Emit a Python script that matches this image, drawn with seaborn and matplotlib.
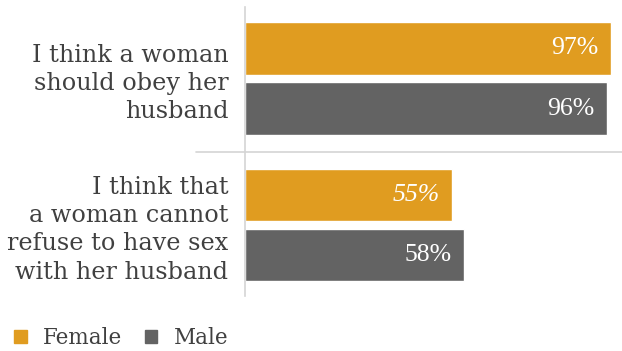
import matplotlib
matplotlib.use("Agg")
import matplotlib.pyplot as plt
import matplotlib.patches as mpatches
import pandas as pd
import seaborn as sns

# values
STATEMENTS = [
    "I think a woman\nshould obey her\nhusband",
    "I think that\na woman cannot\nrefuse to have sex\nwith her husband",
]
FEMALE = [97, 55]
MALE = [96, 58]
GENDERS = ["Female", "Male"]
COLORS = {"Female": "#E09C20", "Male": "#636363"}
ITALIC_LABELS = {("Female", 1)}

TEXT_COLOR = "#404040"
LINE_COLOR = "#d4d4d4"

sns.set_style("white")
plt.rcParams["font.family"] = ["DejaVu Serif"]

df = pd.DataFrame({
    "statement": STATEMENTS * 2,
    "value": FEMALE + MALE,
    "gender": ["Female"] * len(FEMALE) + ["Male"] * len(MALE),
})

fig = plt.figure(figsize=(6.22, 3.51), dpi=100)
W, H = 622, 351
ax = fig.add_axes([245 / W, 1 - 296 / H, 377 / W, 289 / H])

sns.barplot(
    data=df, y="statement", x="value", hue="gender", hue_order=GENDERS,
    palette=COLORS, orient="h", width=0.82, gap=0.12, saturation=1,
    legend=False, ax=ax,
)

ax.set_xlim(0, 100)
ax.set_ylim(1.485, -0.488)
ax.set_xlabel("")
ax.set_ylabel("")
ax.set_xticks([])
for side in ["top", "right", "bottom"]:
    ax.spines[side].set_visible(False)
ax.spines["left"].set_color(LINE_COLOR)
ax.spines["left"].set_linewidth(1.2)

ax.tick_params(axis="y", length=0, pad=12)
for lbl in ax.get_yticklabels():
    lbl.set_fontsize(17.2)
    lbl.set_color(TEXT_COLOR)
    lbl.set_horizontalalignment("right")
    lbl.set_multialignment("right")
    lbl.set_linespacing(1.28)

# separator between the two statements
ax.axhline(0.5, xmin=-0.13, xmax=1.0, color=LINE_COLOR, lw=1.2, clip_on=False)

# value labels inside the bar ends
for gender, container in zip(GENDERS, ax.containers):
    for i, patch in enumerate(container.patches):
        w = patch.get_width()
        yc = patch.get_y() + patch.get_height() / 2
        style = "italic" if (gender, i) in ITALIC_LABELS else "normal"
        ax.annotate(f"{w:.0f}%", (w, yc), xytext=(-9, 0), textcoords="offset points",
                    ha="right", va="center", color="white", fontsize=18.5, style=style,
                    family="Liberation Serif")

handles = [mpatches.Patch(color=COLORS[g], label=g) for g in GENDERS]
leg = fig.legend(handles=handles, loc="center left", bbox_to_anchor=(0.008, 1 - 338 / H),
                 ncol=2, frameon=False, fontsize=15.5, handlelength=0.6, handleheight=0.6,
                 handletextpad=0.75, columnspacing=1.05, borderaxespad=0)
for t in leg.get_texts():
    t.set_color(TEXT_COLOR)

fig.savefig("out.png", dpi=100)
